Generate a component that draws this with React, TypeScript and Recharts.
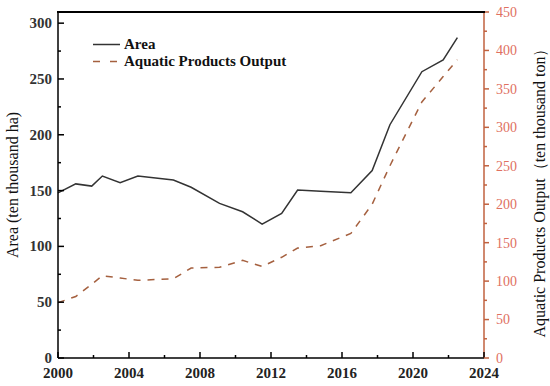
import React from 'react';
import { LineChart, Line, XAxis, YAxis } from 'recharts';

// values (x positions are not whole years in the source)
const years = [2000, 2001, 2001.9, 2002.5, 2003.5, 2004.5, 2006.5, 2007.5, 2009.1, 2010.4, 2011.5, 2012.6, 2013.5, 2014.8, 2016.5, 2017.7, 2018.7, 2020.5, 2021.7, 2022.5];
const area = [148, 156, 154, 163, 157, 163, 159.5, 153, 138.5, 131, 120, 129.5, 150.5, 149.5, 148, 168, 209, 256.5, 267, 287];
const output = [72, 80, 96, 107, 104, 101, 103, 117, 118, 127, 119, 131, 143, 146, 162, 200, 250, 333, 366, 388];

const xTicks = [2000, 2002, 2004, 2006, 2008, 2010, 2012, 2014, 2016, 2018, 2020, 2022, 2024];
const leftTicks = [0, 25, 50, 75, 100, 125, 150, 175, 200, 225, 250, 275, 300];
const rightTicks = [0, 25, 50, 75, 100, 125, 150, 175, 200, 225, 250, 275, 300, 325, 350, 375, 400, 425, 450];

const data = years.map((year, i) => ({ year, area: area[i], output: output[i] }));

const serif = '"Liberation Serif", "Times New Roman", serif';
const redAxis = '#c0623f';
const redText = '#e0705f';
const dashColor = '#a5603f';

const BottomTick = (props: any) => {
  const { x, y, payload } = props;
  const major = payload.value % 4 === 0;
  return (
    <g>
      <line x1={x} x2={x} y1={y} y2={y - (major ? 6 : 3)} stroke="#000" strokeWidth={1.5} />
      {major && (
        <text x={x} y={y + 20} textAnchor="middle" fontSize={15} fontWeight="bold" fill="#222" fontFamily={serif}>
          {payload.value}
        </text>
      )}
    </g>
  );
};

const LeftTick = (props: any) => {
  const { x, y, payload } = props;
  const major = payload.value % 50 === 0;
  return (
    <g>
      <line x1={x} x2={x + (major ? 6 : 3)} y1={y} y2={y} stroke="#000" strokeWidth={1.5} />
      {major && (
        <text x={x - 6} y={y} dy="0.33em" textAnchor="end" fontSize={15} fontWeight="bold" fill="#333" fontFamily={serif}>
          {payload.value}
        </text>
      )}
    </g>
  );
};

const RightTick = (props: any) => {
  const { x, y, payload } = props;
  const major = payload.value % 50 === 0;
  return (
    <g>
      <line x1={x} x2={x + (major ? 5 : 3)} y1={y} y2={y} stroke={redAxis} strokeWidth={1.5} />
      {major && (
        <text x={x + 12} y={y} dy="0.35em" textAnchor="start" fontSize={14} fill={redText} fontFamily={serif}>
          {payload.value}
        </text>
      )}
    </g>
  );
};

const LegendBox = () => (
  <div
    style={{
      position: 'absolute',
      left: 93,
      top: 36,
      fontFamily: serif,
      fontSize: 15,
      fontWeight: 'bold',
      color: '#111',
      lineHeight: '17px',
      whiteSpace: 'nowrap',
    }}
  >
    <div style={{ display: 'flex', alignItems: 'center', height: 17 }}>
      <svg width={27} height={17}>
        <line x1={0} x2={27} y1={8.5} y2={8.5} stroke="#333" strokeWidth={1.5} />
      </svg>
      <span style={{ marginLeft: 4 }}>Area</span>
    </div>
    <div style={{ display: 'flex', alignItems: 'center', height: 17 }}>
      <svg width={27} height={17}>
        <line x1={0} x2={27} y1={8.5} y2={8.5} stroke={dashColor} strokeWidth={1.5} strokeDasharray="7 10" />
      </svg>
      <span style={{ marginLeft: 4 }}>Aquatic Products Output</span>
    </div>
  </div>
);

export default function App() {
  return (
    <div style={{ position: 'absolute', left: 0, top: 0, width: 550, height: 386, background: '#fff' }}>
      <LineChart width={550} height={386} data={data} margin={{ top: 12, right: 0, bottom: 0, left: 0 }}>
        <XAxis
          dataKey="year"
          type="number"
          domain={[2000, 2024]}
          ticks={xTicks}
          interval={0}
          height={28}
          tickSize={0}
          tickMargin={0}
          tickLine={false}
          tick={<BottomTick />}
          axisLine={{ stroke: '#000', strokeWidth: 1.5 }}
        />
        <YAxis
          yAxisId="left"
          orientation="left"
          domain={[0, 310]}
          ticks={leftTicks}
          interval={0}
          width={58}
          tickSize={0}
          tickMargin={0}
          tickLine={false}
          tick={<LeftTick />}
          axisLine={{ stroke: '#000', strokeWidth: 1.5 }}
          label={{
            value: 'Area (ten thousand ha)',
            angle: -90,
            position: 'center',
            dx: -16.5,
            style: { fontFamily: serif, fontSize: 16, fill: '#111', textAnchor: 'middle' },
          }}
        />
        <YAxis
          yAxisId="right"
          orientation="right"
          domain={[0, 450]}
          ticks={rightTicks}
          interval={0}
          width={66}
          tickSize={0}
          tickMargin={0}
          tickLine={false}
          tick={<RightTick />}
          axisLine={{ stroke: redAxis, strokeWidth: 1.5 }}
          label={{
            value: 'Aquatic Products Output（ten thousand ton）',
            angle: -90,
            position: 'center',
            dx: 22,
            dy: 4,
            style: { fontFamily: serif, fontSize: 16, fill: '#111', textAnchor: 'middle' },
          }}
        />
        <Line
          yAxisId="left"
          type="linear"
          dataKey="area"
          name="Area"
          stroke="#333"
          strokeWidth={1.5}
          dot={false}
          isAnimationActive={false}
        />
        <Line
          yAxisId="right"
          type="linear"
          dataKey="output"
          name="Aquatic Products Output"
          stroke={dashColor}
          strokeWidth={1.5}
          strokeDasharray="7 7"
          dot={false}
          isAnimationActive={false}
        />
      </LineChart>
      {/* top frame line of the plot box */}
      <div
        style={{
          position: 'absolute',
          zIndex: 10,
          left: 57.25,
          top: 11,
          width: 427.5,
          height: 2,
          background: '#000',
          pointerEvents: 'none',
        }}
      />
      <LegendBox />
    </div>
  );
}
